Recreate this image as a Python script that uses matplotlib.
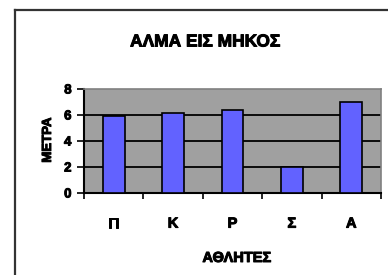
import matplotlib
matplotlib.use("Agg")
import matplotlib.pyplot as plt
import matplotlib.patheffects as pe
import numpy as np
from matplotlib.lines import Line2D

athletes = ["Π", "Κ", "Ρ", "Σ", "Α"]
meters = [5.9, 6.15, 6.35, 2.0, 7.0]
y_ticks = [0, 2, 4, 6, 8]

title = "ΑΛΜΑ ΕΙΣ ΜΗΚΟΣ"
x_label = "ΑΘΛΗΤΕΣ"
y_label = "ΜΕΤΡΑ"

plt.rcParams["font.family"] = ["Liberation Sans", "DejaVu Sans"]
plt.rcParams["font.weight"] = "bold"

# the source text is heavier than a plain bold face
heavy = [pe.withStroke(linewidth=0.7, foreground="black")]

fig = plt.figure(figsize=(3.88, 2.75), dpi=100)
fig.patch.set_facecolor("white")

# outer chart frame (left and top edges visible)
fig.add_artist(Line2D([14.5 / 388, 14.5 / 388], [0, 1 - 9.5 / 275],
                      transform=fig.transFigure, color="#333333", lw=1.6))
fig.add_artist(Line2D([14.5 / 388, 1], [1 - 9.5 / 275, 1 - 9.5 / 275],
                      transform=fig.transFigure, color="#333333", lw=1.6))

ax = fig.add_axes([84 / 388, 82 / 275, 297 / 388, 104 / 275])
ax.set_facecolor("#a0a0a0")

x = np.arange(len(athletes))
ax.bar(x, meters, width=0.37, color="#6262ff", edgecolor="black", linewidth=1.2, zorder=3)

for yv in y_ticks[1:-1]:
    ax.axhline(yv, color="black", lw=1.3, zorder=2)

ax.set_xlim(-0.5, len(athletes) - 0.5)
ax.set_ylim(0, 8)
ax.set_yticks(y_ticks)
ax.set_yticklabels([str(v) for v in y_ticks], fontsize=9.5, fontweight="bold")

ax.set_xticks(np.arange(-0.5, len(athletes)), minor=False)
ax.set_xticklabels([])
ax.set_xticks(x, minor=True)
ax.set_xticklabels(athletes, minor=True, fontsize=10.5, fontweight="bold")
ax.tick_params(axis="x", which="minor", length=0, pad=17)
ax.tick_params(axis="x", which="major", length=4, width=1.2, direction="out")
ax.tick_params(axis="y", length=5, width=1.2, direction="out", pad=4)

for lab in ax.get_yticklabels() + ax.get_xticklabels(minor=True):
    lab.set_path_effects(heavy)

for side in ["left", "bottom"]:
    ax.spines[side].set_color("black")
    ax.spines[side].set_linewidth(1.5)
for side in ["top", "right"]:
    ax.spines[side].set_color("#808080")
    ax.spines[side].set_linewidth(1.2)

fig.text(205 / 388, 1 - 42 / 275, title, ha="center", va="center",
         fontsize=12.5, fontweight="bold", path_effects=heavy)
fig.text(237 / 388, 1 - 258 / 275, x_label, ha="center", va="center",
         fontsize=10.5, fontweight="bold", path_effects=heavy)
fig.text(48 / 388, 1 - 140 / 275, y_label, ha="center", va="center",
         rotation=90, fontsize=9.5, fontweight="bold", path_effects=heavy)

fig.savefig("out.png", dpi=100)
